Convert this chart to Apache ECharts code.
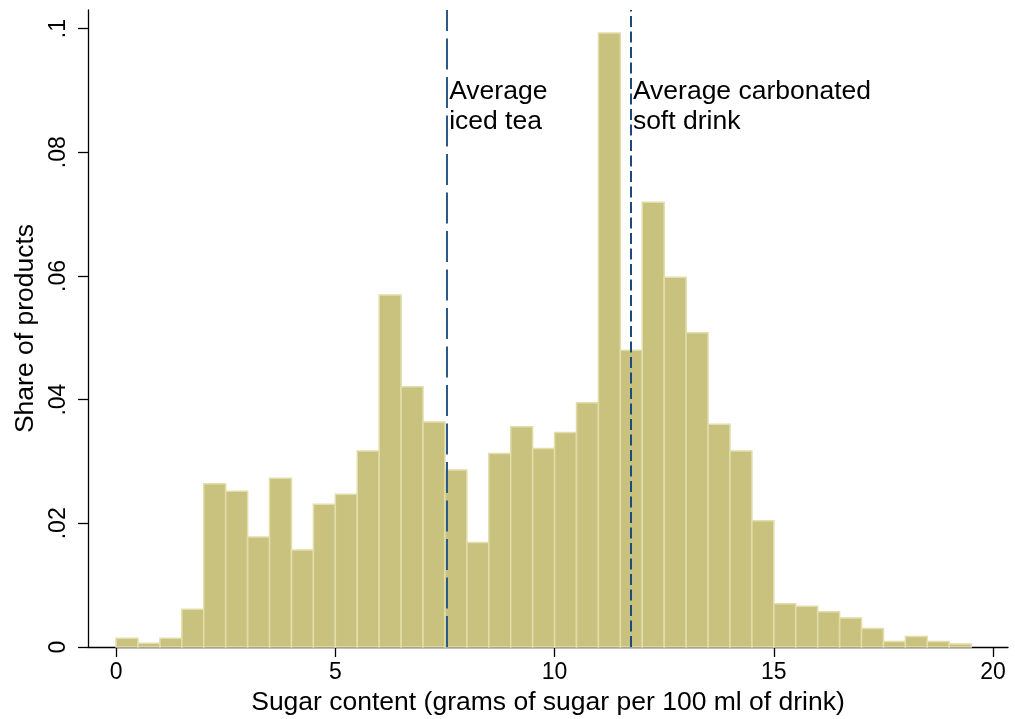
<!DOCTYPE html>
<html>
<head>
<meta charset="utf-8">
<script src="https://cdn.jsdelivr.net/npm/echarts@6/dist/echarts.min.js"></script>
<style>
  html, body { margin: 0; padding: 0; background: #fff; }
  #chart { width: 1015px; height: 719px; }
</style>
</head>
<body>
<div id="chart"></div>
<script>
// histogram: 0.5 g bins starting at 0
var binStart = 0;
var binWidth = 0.5;
var shares = [
    0.0014, 0.0006, 0.0014, 0.0061, 0.0264, 0.0252, 0.0178, 0.0273, 0.0157, 0.0231,
    0.0247, 0.0317, 0.0569, 0.0421, 0.0364, 0.0286, 0.0169, 0.0313, 0.0356, 0.0321,
    0.0347, 0.0395, 0.0993, 0.0480, 0.0719, 0.0598, 0.0508, 0.0360, 0.0317, 0.0204,
    0.0070, 0.0066, 0.0057, 0.0047, 0.0030, 0.0009, 0.0017, 0.0009, 0.0005
];
var xTicks = [0, 5, 10, 15, 20];
var yTicks = [0, 0.02, 0.04, 0.06, 0.08, 0.1];
var yTickLabels = ['0', '.02', '.04', '.06', '.08', '.1'];

// reference lines and their notes
var avgIcedTea = 7.55;
var avgSoftDrink = 11.74;
var notes = [
    { x: 7.55, y: 0.0874, text: 'Average\niced tea' },
    { x: 11.74, y: 0.0874, text: 'Average carbonated\nsoft drink' }
];

var font = 'Liberation Sans, Arial, sans-serif';

var bins = shares.map(function (v, i) {
    var lo = binStart + i * binWidth;
    return [lo, lo + binWidth, v];
});

var chart = echarts.init(document.getElementById('chart'));
var option = {
    animation: false,
    backgroundColor: '#ffffff',
    grid: { left: 88, right: 7, top: 10, bottom: 72, outerBoundsMode: 'none' },
    xAxis: {
        type: 'value',
        min: -0.64,
        max: 20.34,
        name: 'Sugar content (grams of sugar per 100 ml of drink)',
        nameLocation: 'middle',
        nameGap: 40,
        nameTextStyle: { fontFamily: font, fontSize: 26.5, color: '#000' },
        axisLine: { show: true, onZero: false, lineStyle: { color: '#000', width: 1.3 } },
        axisTick: { show: true, length: 10, lineStyle: { color: '#000', width: 1.3 }, customValues: xTicks },
        axisLabel: { fontFamily: font, fontSize: 23, color: '#000', margin: 14, customValues: xTicks },
        splitLine: { show: false }
    },
    yAxis: {
        type: 'value',
        min: 0,
        max: 0.103,
        name: 'Share of products',
        nameLocation: 'middle',
        nameGap: 41,
        nameTextStyle: { fontFamily: font, fontSize: 26.5, color: '#000' },
        axisLine: { show: true, onZero: false, lineStyle: { color: '#000', width: 1.3 } },
        axisTick: { show: true, length: 10, lineStyle: { color: '#000', width: 1.3 }, customValues: yTicks },
        axisLabel: {
            fontFamily: font, fontSize: 23, color: '#000', margin: 18, rotate: 90,
            customValues: yTicks,
            formatter: function (v) {
                var i = yTicks.findIndex(function (t) { return Math.abs(t - v) < 1e-9; });
                return i >= 0 ? yTickLabels[i] : '';
            }
        },
        splitLine: { show: false }
    },
    series: [
        {
            type: 'line',
            data: [],
            z: 1,
            markLine: {
                silent: true,
                symbol: 'none',
                label: { show: false },
                data: [
                    { xAxis: avgIcedTea, lineStyle: { color: '#2c5a86', width: 2, type: [31, 7.5] } },
                    { xAxis: avgSoftDrink, lineStyle: { color: '#1d4a79', width: 2, type: [11, 4.5] } }
                ]
            }
        },
        {
            type: 'custom',
            z: 2,
            data: bins,
            renderItem: function (params, api) {
                var p0 = api.coord([api.value(0), 0]);
                var p1 = api.coord([api.value(1), api.value(2)]);
                return {
                    type: 'rect',
                    shape: { x: p0[0], y: p1[1], width: p1[0] - p0[0], height: p0[1] - p1[1] },
                    style: { fill: '#c9c27e', stroke: '#e2ddab', lineWidth: 1.5 }
                };
            }
        },
        {
            type: 'scatter',
            z: 3,
            symbolSize: 0,
            itemStyle: { opacity: 1 },
            data: notes.map(function (n) { return { value: [n.x, n.y], name: n.text }; }),
            label: {
                show: true,
                position: 'right',
                distance: 2,
                formatter: '{b}',
                fontFamily: font,
                fontSize: 26.5,
                lineHeight: 29.5,
                color: '#000',
                opacity: 1
            }
        }
    ]
};
chart.setOption(option);
</script>
</body>
</html>
